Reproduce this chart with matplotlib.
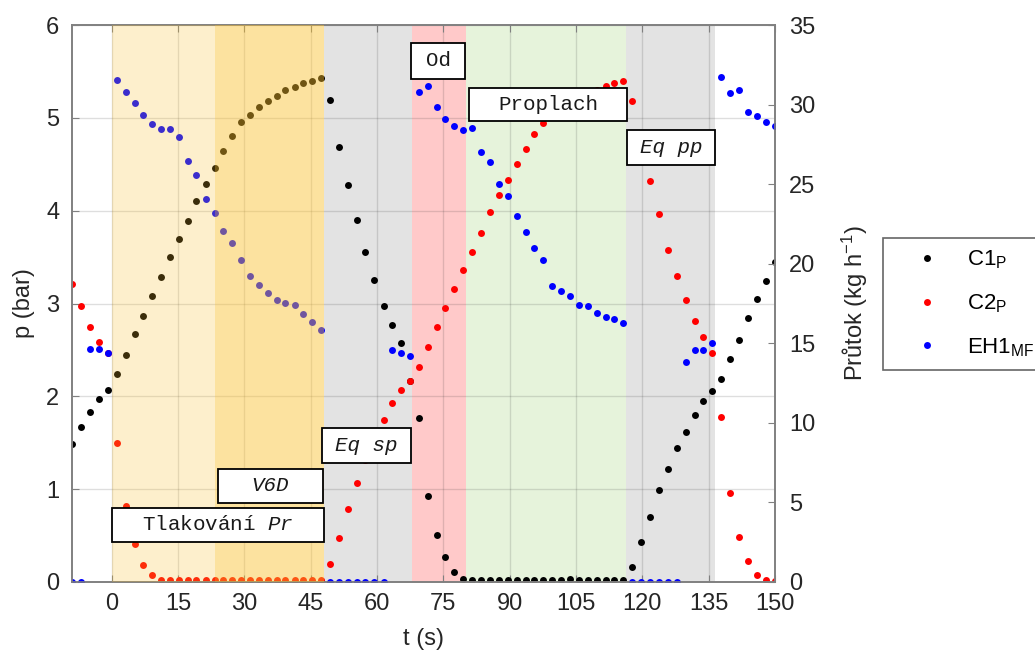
import numpy as np
import matplotlib.pyplot as plt
from matplotlib.patches import Rectangle

plt.rcParams["font.family"] = ["Liberation Sans", "DejaVu Sans"]
plt.rcParams["mathtext.fontset"] = "custom"
plt.rcParams["mathtext.rm"] = "Liberation Sans"
plt.rcParams["mathtext.it"] = "Liberation Mono:italic"

# sampling times (s)
t = [-8.9, -6.9, -4.9, -2.9, -0.9, 1.2, 3.2, 5.2, 7.2, 9.2,
     11.2, 13.2, 15.2, 17.2, 19.2, 21.3, 23.3, 25.3, 27.3, 29.3,
     31.3, 33.3, 35.3, 37.3, 39.3, 41.4, 43.4, 45.4, 47.4, 49.4,
     51.4, 53.4, 55.4, 57.4, 59.4, 61.5, 63.5, 65.5, 67.5, 69.5,
     71.5, 73.5, 75.5, 77.5, 79.5, 81.6, 83.6, 85.6, 87.6, 89.6,
     91.6, 93.6, 95.6, 97.6, 99.6, 101.7, 103.7, 105.7, 107.7, 109.7,
     111.7, 113.7, 115.7, 117.7, 119.7, 121.8, 123.8, 125.8, 127.8, 129.8,
     131.8, 133.8, 135.8, 137.8, 139.8, 141.9, 143.9, 145.9, 147.9, 149.9]

# column pressures (bar)
c1_p = [1.49, 1.67, 1.83, 1.97, 2.07, 2.24, 2.45, 2.67, 2.86, 3.08,
        3.29, 3.50, 3.70, 3.89, 4.10, 4.29, 4.46, 4.64, 4.80, 4.95,
        5.03, 5.12, 5.18, 5.24, 5.30, 5.33, 5.38, 5.40, 5.43, 5.19,
        4.69, 4.28, 3.90, 3.55, 3.25, 2.97, 2.77, 2.57, 2.17, 1.77,
        0.93, 0.51, 0.27, 0.11, 0.03, 0.02, 0.02, 0.02, 0.02, 0.02,
        0.02, 0.02, 0.02, 0.02, 0.02, 0.02, 0.03, 0.02, 0.02, 0.02,
        0.02, 0.02, 0.02, 0.16, 0.43, 0.70, 0.99, 1.22, 1.44, 1.62,
        1.80, 1.95, 2.06, 2.19, 2.40, 2.61, 2.84, 3.05, 3.24, 3.45]

c2_p = [3.21, 2.97, 2.75, 2.59, 2.47, 1.50, 0.82, 0.41, 0.18, 0.07,
        0.02, 0.02, 0.02, 0.02, 0.02, 0.02, 0.02, 0.02, 0.02, 0.02,
        0.02, 0.02, 0.02, 0.02, 0.02, 0.02, 0.02, 0.02, 0.02, 0.19,
        0.47, 0.79, 1.07, 1.31, 1.53, 1.75, 1.93, 2.07, 2.17, 2.32,
        2.53, 2.75, 2.95, 3.16, 3.36, 3.56, 3.76, 3.99, 4.17, 4.33,
        4.50, 4.66, 4.83, 4.94, 5.02, 5.09, 5.15, 5.21, 5.26, 5.30,
        5.34, 5.37, 5.40, 5.18, 4.75, 4.32, 3.96, 3.58, 3.30, 3.04,
        2.81, 2.64, 2.47, 1.78, 0.96, 0.49, 0.23, 0.07, 0.02, 0.01]

# mass flow (kg/h)
eh1_mf = [0, 0, 14.62, 14.62, 14.37, 31.54, 30.77, 30.08, 29.35, 28.76,
          28.47, 28.45, 27.94, 26.45, 25.55, 24.05, 23.17, 22.08, 21.28, 20.23,
          19.23, 18.64, 18.16, 17.69, 17.53, 17.39, 16.82, 16.34, 15.83, 0,
          0, 0, 0, 0, 0, 0, 14.56, 14.41, 14.22, 30.81,
          31.19, 29.83, 29.09, 28.67, 28.38, 28.51, 27.02, 26.37, 25.03, 24.26,
          23.00, 22.01, 20.97, 20.25, 18.62, 18.30, 17.97, 17.39, 17.34, 16.92,
          16.67, 16.51, 16.26, 0, 0, 0, 0, 0, 0, 13.82,
          14.60, 14.58, 15.02, 31.75, 30.73, 30.92, 29.55, 29.28, 28.93, 28.65]

# phase boundaries (s)
phase_start = [0, 23.5, 48, 68, 80.2, 116.3]
phase_end = [23.5, 48, 68, 80.2, 116.3, 136.4]

fig = plt.figure(figsize=(10.35, 6.6), dpi=100)
ax = fig.add_axes([0.0693, 0.1182, 0.6795, 0.8439])
ax2 = ax.twinx()

# opaque phase backgrounds
ax.axvspan(phase_start[2], phase_end[2], color="#e3e3e3", lw=0, zorder=0)
ax.axvspan(phase_start[3], phase_end[3], color="#ffc9c9", lw=0, zorder=0)
ax.axvspan(phase_start[4], phase_end[4], color="#e6f3db", lw=0, zorder=0)
ax.axvspan(phase_start[5], phase_end[5], color="#e3e3e3", lw=0, zorder=0)

ax.plot(t, c1_p, "o", color="k", ms=5, mew=0, label="C1$_{\\mathrm{P}}$", zorder=2)
ax.plot(t, c2_p, "o", color="r", ms=5, mew=0, label="C2$_{\\mathrm{P}}$", zorder=2)
ax2.plot(t, eh1_mf, "o", color="b", ms=5, mew=0, label="EH1$_{\\mathrm{MF}}$", zorder=2)

# pressurisation phases are tinted over the markers
yel = (0.98, 0.75, 0.17)
ax2.axvspan(phase_start[0], phase_end[0], color=yel, alpha=0.24, lw=0, zorder=3)
ax2.axvspan(phase_start[1], phase_end[1], color=yel, alpha=0.45, lw=0, zorder=3)

ax.set_xlim(-9, 150)
ax.set_ylim(0, 6)
ax2.set_ylim(0, 35)
ax.set_xticks(range(0, 151, 15))
ax.set_yticks(range(0, 7))
ax2.set_yticks(range(0, 36, 5))

ax.grid(True, color="#262626", alpha=0.15, lw=1)
spine_col = "#808080"
for a in (ax, ax2):
    for s in a.spines.values():
        s.set_color(spine_col)
        s.set_linewidth(1.2)
ax.tick_params(direction="in", length=5, top=True, right=False, color=spine_col,
               labelsize=17, labelcolor="#262626", pad=8)
ax.tick_params(axis="y", pad=9)
ax2.tick_params(direction="in", length=5, color=spine_col,
                labelsize=17, labelcolor="#262626", pad=10)

ax.set_xlabel("t (s)", fontsize=17, color="#262626", labelpad=9)
ax.set_ylabel("p (bar)", fontsize=17, color="#262626", labelpad=8)
ax2.set_ylabel("Průtok (kg h$^{-1}$)", fontsize=17, color="#262626", labelpad=18)

# phase name boxes
boxes = [
    (0.0, 0.43, 48.1, 0.37, "Tlakování $\\mathit{Pr}$", "normal"),
    (24.0, 0.85, 23.9, 0.37, "V6D", "italic"),
    (47.5, 1.28, 20.1, 0.38, "Eq sp", "italic"),
    (67.8, 5.42, 12.2, 0.39, "Od", "normal"),
    (80.8, 4.97, 35.8, 0.35, "Proplach", "normal"),
    (116.5, 4.49, 19.9, 0.38, "Eq pp", "italic"),
]
for x0, y0, w, h, txt, style in boxes:
    ax2.add_patch(Rectangle((x0, y0), w, h, transform=ax.transData,
                            facecolor="white", edgecolor="k", lw=1.3, zorder=5))
    ax2.text(x0 + w / 2, y0 + h / 2, txt, transform=ax.transData,
             ha="center", va="center", fontsize=15, family="Liberation Mono",
             style=style, color="#1a1a1a", zorder=6)

h1, l1 = ax.get_legend_handles_labels()
h2, l2 = ax2.get_legend_handles_labels()
leg = fig.legend(h1 + h2, l1 + l2, loc="upper left", bbox_to_anchor=(0.853, 0.640),
                 borderaxespad=0, fontsize=16, frameon=True, fancybox=False,
                 borderpad=0.5, handlelength=3.0, handletextpad=0.3,
                 labelspacing=0.95, markerscale=1.0)
leg.get_frame().set_edgecolor("#404040")
leg.get_frame().set_linewidth(1.2)

fig.savefig("out.png", dpi=100)
